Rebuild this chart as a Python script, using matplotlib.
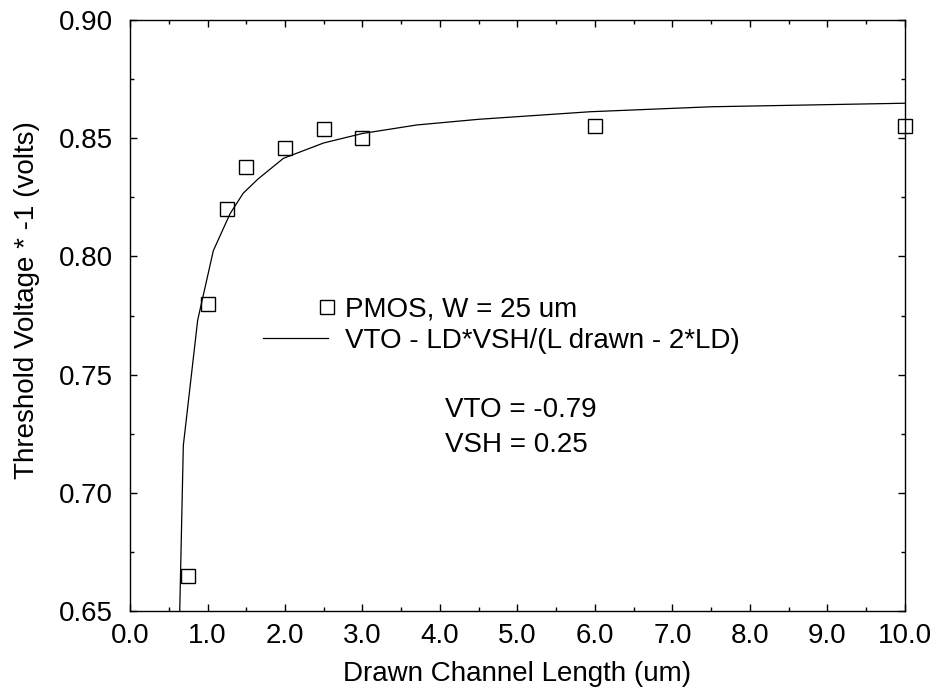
import matplotlib
matplotlib.use("Agg")
import matplotlib.pyplot as plt
from matplotlib.legend_handler import HandlerLine2D
from matplotlib.ticker import MultipleLocator, FormatStrFormatter

plt.rcParams['font.family'] = ['Liberation Sans', 'DejaVu Sans']

# measured threshold voltages (PMOS, W = 25 um)
length_meas = [0.75, 1.0, 1.25, 1.5, 2.0, 2.5, 3.0, 6.0, 10.0]
vt_meas = [0.665, 0.780, 0.820, 0.838, 0.846, 0.854, 0.850, 0.855, 0.855]

# fitted curve
length_fit = [0.635, 0.688, 0.873, 1.075, 1.29, 1.46, 1.65, 1.98, 2.5, 3.0,
              3.7, 4.5, 5.94, 7.5, 10.0]
vt_fit = [0.640, 0.720, 0.773, 0.8024, 0.818, 0.8267, 0.8327, 0.8415, 0.848,
          0.852, 0.8556, 0.858, 0.8612, 0.8633, 0.8648]

fit_params = ["VTO = -0.79", "VSH = 0.25"]

FS = 20


class MarkerAtEnd(HandlerLine2D):
    # single legend marker sits at the right end of the handle
    def get_xdata(self, legend, xdescent, ydescent, width, height, fontsize):
        xm = -xdescent + width - 0.02 * width
        return [xm, xm], [xm]


fig = plt.figure(figsize=(9.38, 6.90), dpi=100)
ax = fig.add_axes([0.1386, 0.1145, 0.8262, 0.8565])

ax.plot(length_fit, vt_fit, color='black', lw=0.9,
        label='VTO - LD*VSH/(L drawn - 2*LD)')
pts, = ax.plot(length_meas, vt_meas, ls='none', marker='s', ms=9.5,
               mfc='none', mec='black', mew=1.0, clip_on=False,
               label='PMOS, W = 25 um')

ax.set_xlim(0, 10)
ax.set_ylim(0.65, 0.90)
ax.xaxis.set_major_locator(MultipleLocator(1.0))
ax.xaxis.set_minor_locator(MultipleLocator(0.5))
ax.yaxis.set_major_locator(MultipleLocator(0.05))
ax.yaxis.set_minor_locator(MultipleLocator(0.025))
ax.xaxis.set_major_formatter(FormatStrFormatter('%.1f'))
ax.yaxis.set_major_formatter(FormatStrFormatter('%.2f'))
ax.tick_params(which='both', direction='in', top=True, right=True,
               labelsize=FS, width=1.0)
ax.tick_params(which='major', length=5)
ax.tick_params(which='minor', length=3)
ax.tick_params(axis='x', pad=9)
ax.tick_params(axis='y', pad=12)
for s in ax.spines.values():
    s.set_linewidth(1.0)

ax.set_xlabel('Drawn Channel Length (um)', fontsize=FS, labelpad=8)
ax.set_ylabel('Threshold Voltage * -1 (volts)', fontsize=FS, labelpad=14)
ax.yaxis.label.set_y(0.526)

handles, labels = ax.get_legend_handles_labels()
order = [1, 0]
ax.legend([handles[i] for i in order], [labels[i] for i in order],
          loc='upper left', bbox_to_anchor=(0.1716, 0.532), frameon=False,
          fontsize=FS, handlelength=2.34, handletextpad=0.61,
          labelspacing=0.2, borderpad=0, borderaxespad=0,
          handler_map={pts: MarkerAtEnd(numpoints=1)})

ax.text(0.406, 0.3288, fit_params[0], transform=ax.transAxes, fontsize=FS,
        va='baseline', ha='left')
ax.text(0.406, 0.2695, fit_params[1], transform=ax.transAxes, fontsize=FS,
        va='baseline', ha='left')

fig.savefig('out.png', dpi=100)
